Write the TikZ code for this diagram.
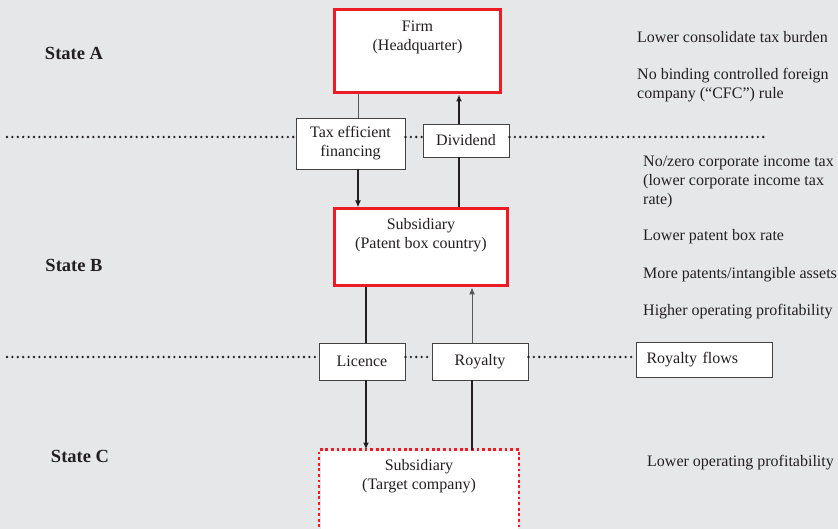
\documentclass[tikz,border=0pt]{standalone}
\usepackage{fontspec}
\setmainfont{Liberation Serif}
\usetikzlibrary{arrows.meta}
\definecolor{bg}{RGB}{230,231,233}
\definecolor{boxred}{RGB}{237,28,36}
\definecolor{ink}{RGB}{35,31,32}

\begin{document}
\begin{tikzpicture}[x=1pt,y=-1pt,
        every node/.style={font=\fontsize{16}{19}\selectfont,text=ink},
        redbox/.style={draw=boxred,line width=3pt,fill=white,align=center,inner ysep=0pt,anchor=north},
        smallbox/.style={draw=ink!85,line width=0.9pt,fill=white,align=center,inner sep=0pt},
        state/.style={font=\fontsize{18.5}{22}\selectfont\bfseries},
        note/.style={anchor=west,align=left,inner sep=0pt},
        dotline/.style={ink,line width=2.6pt,dash pattern=on 0pt off 5.4pt,line cap=round},
        solidline/.style={ink,line width=1.8pt},
        thinline/.style={ink!75,line width=1pt},
        flow/.style={solidline,-{Latex[length=7pt,width=6pt]}},
        thinflow/.style={thinline,-{Latex[length=7pt,width=6pt]}}
    ]
        \fill[bg] (0,0) rectangle (838,529);
        \useasboundingbox (0,0) rectangle (838,529);

        % states
        \node[state] (stA) at (74,53) {State A};
        \node[state] (stB) at (74,265) {State B};
        \node[state] (stC) at (80,456) {State C};

        % main boxes
        \node[redbox,minimum width=166pt,text height=40.5pt,text depth=42.5pt] (firm) at (417.5,8.5) {Firm\\(Headquarter)};
        \node[redbox,minimum width=173pt,text height=39.5pt,text depth=37.5pt] (sub) at (421,207.5) {Subsidiary\\(Patent box country)};
        \node[redbox,draw=none,minimum width=197pt,text height=38.5pt,text depth=81pt] (target) at (419,449.5) {Subsidiary\\(Target company)};
        \draw[boxred,line width=2.8pt,dash pattern=on 2.8pt off 2.8pt] (target.south west) |- (target.north east) -- (target.south east);

        % flow boxes
        \node[smallbox,minimum width=109pt,minimum height=51pt] (tax) at (350.5,143.5) {Tax efficient\\financing};
        \node[smallbox,minimum width=86pt,minimum height=33pt] (div) at (466,140.5) {Dividend};
        \node[smallbox,minimum width=86pt,minimum height=37pt] (lic) at (362,361.5) {Licence};
        \node[smallbox,minimum width=96pt,minimum height=37pt] (roy) at (480,361.5) {Royalty};
        \node[smallbox,minimum height=35pt,text width=115pt,align=left,inner xsep=10.5pt] (rflows) at (704,359.5) {Royalty flows};

        % borders between states
        \coordinate (dotAw) at (7,137);
        \coordinate (dotAe) at (768,137);
        \coordinate (dotBw) at (7,357);
        \draw[dotline] (dotAw) -- (dotAw -| tax.west);
        \draw[dotline] (tax.east |- dotAw) -- (div.west |- dotAw);
        \draw[dotline] (div.east |- dotAw) -- (dotAe);
        \draw[dotline] (dotBw) -- (dotBw -| lic.west);
        \draw[dotline] (lic.east |- dotBw) -- (roy.west |- dotBw);
        \draw[dotline] (roy.east |- dotBw) -- (rflows.west |- dotBw);

        % connectors
        \draw[thinline] ([xshift=7.5pt]tax.north) -- ([xshift=7.5pt]tax.north |- firm.south);
        \draw[flow] ([xshift=-7pt]div.north) -- ([xshift=-7pt]div.north |- firm.south);
        \draw[flow] ([xshift=7.5pt]tax.south) -- ([xshift=7.5pt]tax.south |- sub.north);
        \draw[solidline] ([xshift=-7pt]div.south) -- ([xshift=-7pt]div.south |- sub.north);
        \draw[solidline] ([xshift=4pt]lic.north) -- ([xshift=4pt]lic.north |- sub.south);
        \draw[thinflow] ([xshift=-8pt]roy.north) -- ([xshift=-8pt]roy.north |- sub.south);
        \draw[flow] ([xshift=4pt]lic.south) -- ([xshift=4pt]lic.south |- target.north);
        \draw[solidline] ([xshift=-8pt]roy.south) -- ([xshift=-8pt]roy.south |- target.north);

        % effects
        \node[note] (effA1) at (637,37) {Lower consolidate tax burden};
        \node[note] (effA2) at (637,85) {No binding controlled foreign\\company (“CFC”) rule};
        \node[note] (effB1) at (643,182) {No/zero corporate income tax\\(lower corporate income tax\\rate)};
        \node[note] (effB2) at (643,237) {Lower patent box rate};
        \node[note] (effB3) at (643,275) {More patents/intangible assets};
        \node[note] (effB4) at (643,312) {Higher operating profitability};
        \node[note] (effC1) at (647,463) {Lower operating profitability};
\end{tikzpicture}
\end{document}
